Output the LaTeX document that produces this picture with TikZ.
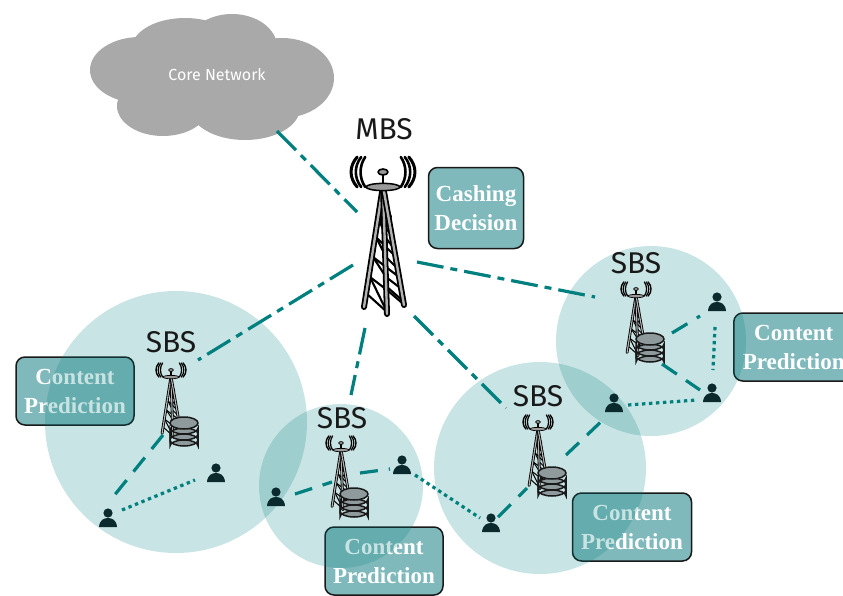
\documentclass[tikz,border=0pt]{standalone}
\usepackage{fontspec}
\setmainfont{Liberation Serif}
\newfontfamily\labelfont{Fira Sans}
\definecolor{tealline}{HTML}{007F7F}
\definecolor{boxfill}{HTML}{7FB9BB}
\definecolor{cloudgray}{HTML}{A9A9A9}
\definecolor{towergray}{HTML}{9A9A9A}
\definecolor{dbgray}{HTML}{8E9A9C}
\definecolor{persondark}{HTML}{0B2A2E}
\tikzset{
  cell/.style={circle,fill=tealline,fill opacity=.21,draw=none,inner sep=0pt},
  infobox/.style={draw=black!90,line width=1.5pt,rounded corners=9pt,fill=boxfill,text=white,font=\bfseries\fontsize{23}{29}\selectfont,align=center,inner sep=0pt},
  stationlabel/.style={font=\labelfont\fontsize{30}{30}\selectfont,text=black!90,inner sep=0pt},
  backhaul/.style={tealline,line width=3.2pt,dash pattern=on 27pt off 7pt on 7pt off 7pt},
  access/.style={tealline,line width=3.2pt,dash pattern=on 18pt off 11pt},
  d2d/.style={tealline,line width=3.2pt,dash pattern=on 3.4pt off 3.6pt},
  cloudpart/.style={ellipse,fill=cloudgray,draw=none,inner sep=0pt}
}
\usetikzlibrary{shapes.geometric}
\newcommand{\towerat}[3]{%
\begin{scope}[shift={(#1,#2)},scale=#3,line cap=round,line join=round]
  \foreach \s in {-1,1}{
    \foreach \r/\w in {11/2.6,16/2.6,21/3}{
      \draw[black,line width=#3*\w pt] (\s*\r*0.8+\s*9,-15) .. controls (\s*\r+\s*13,-6) and (\s*\r+\s*13,6) .. (\s*\r*0.8+\s*9,15);
    }
  }
  \draw[black,line width=#3*2.6pt] (0,0) -- (0,12);
  \fill[towergray,draw=black,line width=#3*1.6pt] (0,0) ellipse (5 and 3);
  % braces
  \foreach \a/\b/\c/\d in {-3/30/2/30,-5/45/2/55,-7/65/3/75,-10/85/3/95,-13/105/4/118,-16/122/4/140,2/30/5/45,2/45/8/55,2/65/10/75,3/85/13/95,3/105/16/115,4/118/18/130,-3/30/2/45,-5/45/3/65,-7/65/3/85,-10/85/3/105,-13/105/4/140,2/30/8/45,2/55/10/65,3/75/13/85,3/95/16/105,4/115/19/128}{
    \draw[black,line width=#3*2.1pt] (\a,\b) -- (\c,\d);
  }
  \foreach \x/\y in {-19/135,4/142,21/133}{
    \draw[black,line width=#3*6pt] (0,14) -- (\x,\y);
    \draw[towergray!75!white,line width=#3*2.4pt] (0,14) -- (\x,\y);
  }
  \fill[towergray,draw=black,line width=#3*1.5pt] (0,15) ellipse (17 and 3.6);
\end{scope}}
\newcommand{\dbat}[3]{%
\begin{scope}[shift={(#1,#2)},scale=#3]
  \foreach \y in {9,3,-3}{
    \fill[dbgray,draw=black!90,line width=#3*1.5pt] (-14,\y) -- (-14,\y+6) arc[start angle=180,end angle=360,x radius=14,y radius=6] -- (14,\y) arc[start angle=0,end angle=-180,x radius=14,y radius=-6] -- cycle;
  }
  \fill[dbgray,draw=black!90,line width=#3*1.5pt] (0,-8) ellipse (14 and 6);
\end{scope}}
\newcommand{\personat}[2]{%
  \fill[persondark] (#1,#2-5) circle (4.6);
  \fill[persondark] (#1-9,#2+9) .. controls (#1-8.5,#2+2) and (#1-4,#2) .. (#1,#2) .. controls (#1+4,#2) and (#1+8.5,#2+2) .. (#1+9,#2+9) -- cycle;
}
\begin{document}
\begin{tikzpicture}[x=1pt,y=-1pt]
\useasboundingbox (0,0) rectangle (843,595);
% info boxes
\node[infobox,minimum width=118pt,minimum height=68pt] (boxl) at (75,391) {Content\\Prediction};
\node[infobox,minimum width=118pt,minimum height=68pt] (boxm) at (384,561) {Content\\Prediction};
\node[infobox,minimum width=119pt,minimum height=68pt] (boxrm) at (632,527) {Content\\Prediction};
\node[infobox,minimum width=120pt,minimum height=68pt,anchor=west] (boxr) at (733,347) {Content\\Prediction};
\node[infobox,minimum width=95pt,minimum height=81pt] (boxc) at (476,208) {Cashing\\Decision};
% coverage cells
\node[cell,minimum size=262pt] (cell1) at (176,422) {};
\node[cell,minimum size=164pt] (cell2) at (341,486) {};
\node[cell,minimum size=212pt] (cell3) at (540,468) {};
\node[cell,minimum size=190pt] (cell4) at (651,341) {};
% cloud
\node[cloudpart,minimum width=100pt,minimum height=66pt] (c1) at (140,70) {};
\node[cloudpart,minimum width=106pt,minimum height=60pt] (c2) at (185,48) {};
\node[cloudpart,minimum width=90pt,minimum height=66pt] (c3) at (232,47) {};
\node[cloudpart,minimum width=104pt,minimum height=80pt] (c4) at (282,78) {};
\node[cloudpart,minimum width=92pt,minimum height=60pt] (c5) at (163,106) {};
\node[cloudpart,minimum width=110pt,minimum height=64pt] (c6) at (245,108) {};
\node[cloudpart,minimum width=130pt,minimum height=70pt] (c7) at (210,80) {};
\node[text=white,font=\labelfont\fontsize{16}{16}\selectfont,inner sep=0pt] (core) at (217,75) {Core Network};
% towers
\towerat{383}{172}{1}
\towerat{171}{370}{.47}
\towerat{341}{443}{.47}
\towerat{538}{422}{.47}
\towerat{636}{289}{.47}
\dbat{184}{431}{1}
\dbat{354}{502}{1}
\dbat{552}{481}{1}
\dbat{650}{347}{1}
% labels
\node[stationlabel] (mbs) at (384,129) {MBS};
\node[stationlabel] (s1) at (171,342) {SBS};
\node[stationlabel] (s2) at (342,418) {SBS};
\node[stationlabel] (s3) at (538,396) {SBS};
\node[stationlabel] (s4) at (636,263) {SBS};
% users
\personat{108}{518}
\personat{216}{473}
\personat{276}{497}
\personat{402}{465}
\personat{491}{523}
\personat{614}{403}
\personat{717}{302}
\personat{712}{393}
% connector ends
\coordinate (a1) at (277,131); \coordinate (a2) at (357,212);
\coordinate (b1) at (353,265); \coordinate (b2) at (198,360);
\coordinate (e1) at (365,328); \coordinate (e2) at (351,395);
\coordinate (f1) at (414,316); \coordinate (f2) at (506,408);
\coordinate (g1) at (417,262); \coordinate (g2) at (595,297);
\coordinate (h1) at (163,435); \coordinate (h2) at (113,497);
\coordinate (i1) at (122,510); \coordinate (i2) at (195,480);
\coordinate (j1) at (295,494); \coordinate (j2) at (332,482);
\coordinate (k1) at (360,473); \coordinate (k2) at (390,469);
\coordinate (l1) at (415,475); \coordinate (l2) at (480,518);
\coordinate (m1) at (498,517); \coordinate (m2) at (527,488);
\coordinate (n1) at (566,455); \coordinate (n2) at (606,417);
\coordinate (o1) at (628,405); \coordinate (o2) at (697,400);
\coordinate (p1) at (672,333); \coordinate (p2) at (700,316);
\coordinate (q1) at (662,364); \coordinate (q2) at (700,390);
\coordinate (r1) at (715,327); \coordinate (r2) at (713,370);
\foreach \u/\v in {a1/a2,b1/b2,e1/e2,f1/f2,g1/g2}{\draw[backhaul] (\u) -- (\v);}
\foreach \u/\v in {h1/h2,j1/j2,k1/k2,m1/m2,n1/n2,p1/p2,q1/q2}{\draw[access] (\u) -- (\v);}
\foreach \u/\v in {i1/i2,l1/l2,o1/o2,r1/r2}{\draw[d2d] (\u) -- (\v);}
\end{tikzpicture}
\end{document}
